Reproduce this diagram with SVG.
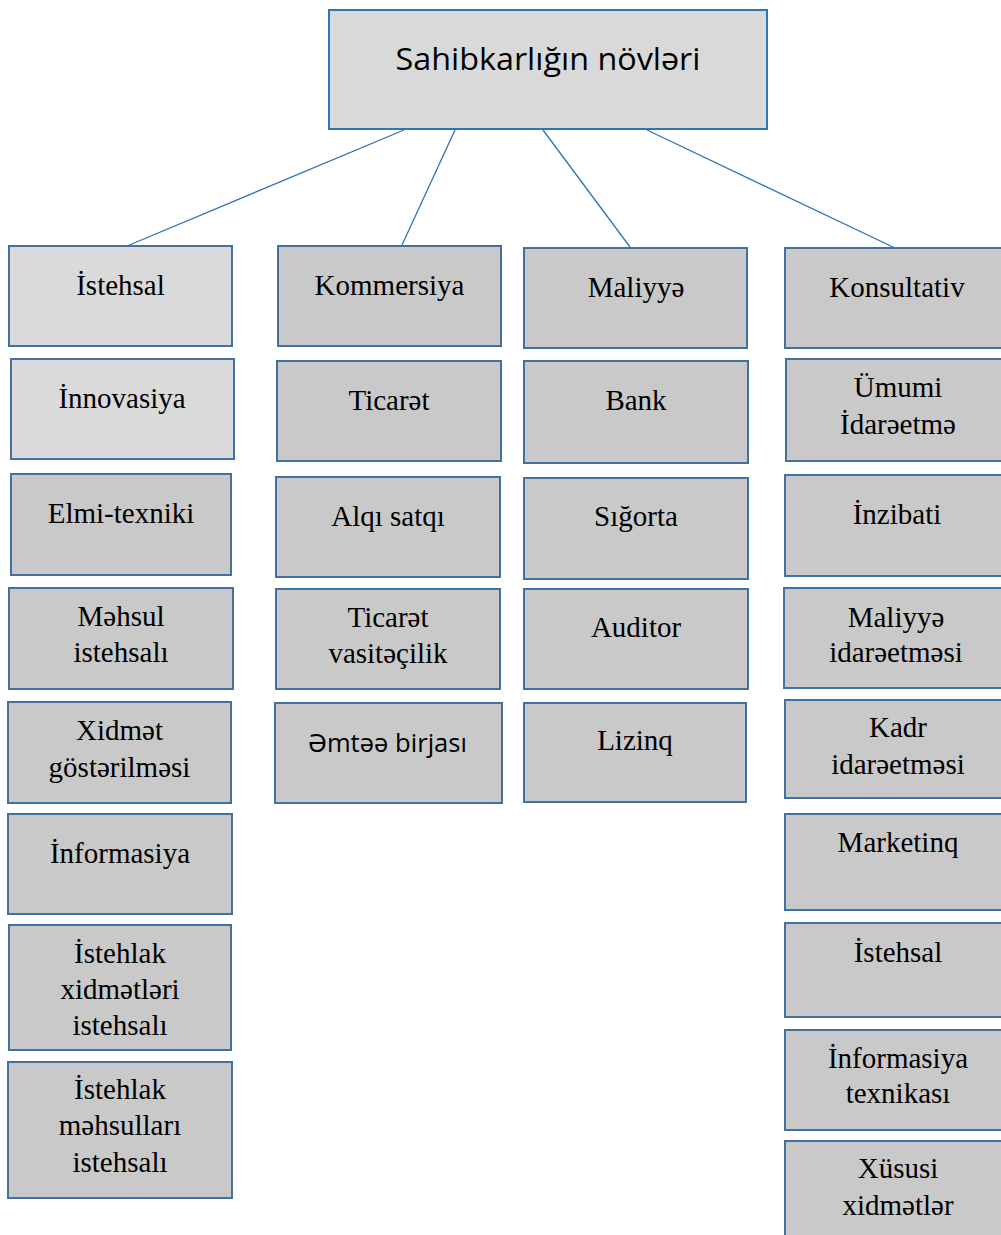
<svg xmlns="http://www.w3.org/2000/svg" width="1001" height="1235" viewBox="0 0 1001 1235">
<style>
.bx{fill:#c9c9c9;stroke:#41719c;stroke-width:2}
.lt{fill:#dadada}
.tt{fill:#d9d9d9;stroke:#2e75b6;stroke-width:2}
.s{font-family:"Liberation Serif","Times New Roman",serif;font-size:29px;fill:#000;text-anchor:middle}
.ss{font-family:"Open Sans","Noto Sans",sans-serif;fill:#000;text-anchor:middle}
.cn{stroke:#2e75b6;stroke-width:1.3;fill:none}
</style>
<rect width="1001" height="1235" fill="#fff"/>
<g id="connectors">
<line class="cn" x1="404" y1="130" x2="127" y2="246"/>
<line class="cn" x1="455" y1="130" x2="402" y2="245"/>
<line class="cn" x1="543" y1="130" x2="630" y2="247"/>
<line class="cn" x1="647" y1="130" x2="895" y2="248"/>
</g>
<g id="root">
<rect class="tt" x="329" y="10" width="438" height="119"/>
<text class="ss" x="548" y="70" font-size="31" textLength="305" lengthAdjust="spacingAndGlyphs">Sahibkarlığın növləri</text>
</g>
<g id="c1-1"><rect class="bx lt" x="9" y="246" width="223" height="100"/><text class="s" x="120.5" y="295">İstehsal</text></g>
<g id="c1-2"><rect class="bx lt" x="11" y="359" width="223" height="100"/><text class="s" x="122" y="408">İnnovasiya</text></g>
<g id="c1-3"><rect class="bx" x="11" y="474" width="220" height="101"/><text class="s" x="121" y="523">Elmi-texniki</text></g>
<g id="c1-4"><rect class="bx" x="9" y="588" width="224" height="101"/><text class="s" x="121" y="626">Məhsul</text><text class="s" x="121" y="662">istehsalı</text></g>
<g id="c1-5"><rect class="bx" x="8" y="702" width="223" height="101"/><text class="s" x="119.5" y="740">Xidmət</text><text class="s" x="119.5" y="777">göstərilməsi</text></g>
<g id="c1-6"><rect class="bx" x="8" y="814" width="224" height="100"/><text class="s" x="120" y="863">İnformasiya</text></g>
<g id="c1-7"><rect class="bx" x="9" y="925" width="222" height="125"/><text class="s" x="120" y="963">İstehlak</text><text class="s" x="120" y="999">xidmətləri</text><text class="s" x="120" y="1035">istehsalı</text></g>
<g id="c1-8"><rect class="bx" x="8" y="1062" width="224" height="136"/><text class="s" x="120" y="1099">İstehlak</text><text class="s" x="120" y="1135">məhsulları</text><text class="s" x="120" y="1172">istehsalı</text></g>
<g id="c2-1"><rect class="bx" x="278" y="246" width="223" height="100"/><text class="s" x="389.5" y="295">Kommersiya</text></g>
<g id="c2-2"><rect class="bx" x="277" y="361" width="224" height="100"/><text class="s" x="389" y="410">Ticarət</text></g>
<g id="c2-3"><rect class="bx" x="276" y="477" width="224" height="100"/><text class="s" x="388" y="526">Alqı satqı</text></g>
<g id="c2-4"><rect class="bx" x="276" y="589" width="224" height="100"/><text class="s" x="388" y="627">Ticarət</text><text class="s" x="388" y="663">vasitəçilik</text></g>
<g id="c2-5"><rect class="bx" x="275" y="703" width="227" height="100"/><text class="ss" x="387.5" y="752" font-size="26" textLength="159" lengthAdjust="spacingAndGlyphs">Əmtəə birjası</text></g>
<g id="c3-1"><rect class="bx" x="524" y="248" width="223" height="100"/><text class="s" x="636" y="297">Maliyyə</text></g>
<g id="c3-2"><rect class="bx" x="524" y="361" width="224" height="102"/><text class="s" x="636" y="410">Bank</text></g>
<g id="c3-3"><rect class="bx" x="524" y="478" width="224" height="101"/><text class="s" x="636" y="526">Sığorta</text></g>
<g id="c3-4"><rect class="bx" x="524" y="589" width="224" height="100"/><text class="s" x="636" y="637">Auditor</text></g>
<g id="c3-5"><rect class="bx" x="524" y="703" width="222" height="99"/><text class="s" x="635" y="750">Lizinq</text></g>
<g id="c4-1"><rect class="bx" x="785" y="248" width="224" height="100"/><text class="s" x="897" y="297">Konsultativ</text></g>
<g id="c4-2"><rect class="bx" x="786" y="359" width="224" height="102"/><text class="s" x="898" y="397">Ümumi</text><text class="s" x="898" y="434">İdarəetmə</text></g>
<g id="c4-3"><rect class="bx" x="785" y="475" width="224" height="101"/><text class="s" x="897" y="524">İnzibati</text></g>
<g id="c4-4"><rect class="bx" x="784" y="588" width="225" height="100"/><text class="s" x="896" y="627">Maliyyə</text><text class="s" x="896" y="662">idarəetməsi</text></g>
<g id="c4-5"><rect class="bx" x="785" y="700" width="224" height="98"/><text class="s" x="898" y="737">Kadr</text><text class="s" x="898" y="774">idarəetməsi</text></g>
<g id="c4-6"><rect class="bx" x="785" y="814" width="224" height="96"/><text class="s" x="898" y="852">Marketinq</text></g>
<g id="c4-7"><rect class="bx" x="785" y="923" width="224" height="94"/><text class="s" x="898" y="962">İstehsal</text></g>
<g id="c4-8"><rect class="bx" x="785" y="1030" width="224" height="100"/><text class="s" x="898" y="1068">İnformasiya</text><text class="s" x="898" y="1103">texnikası</text></g>
<g id="c4-9"><rect class="bx" x="785" y="1141" width="224" height="104"/><text class="s" x="898" y="1178">Xüsusi</text><text class="s" x="898" y="1215">xidmətlər</text></g>
</svg>
